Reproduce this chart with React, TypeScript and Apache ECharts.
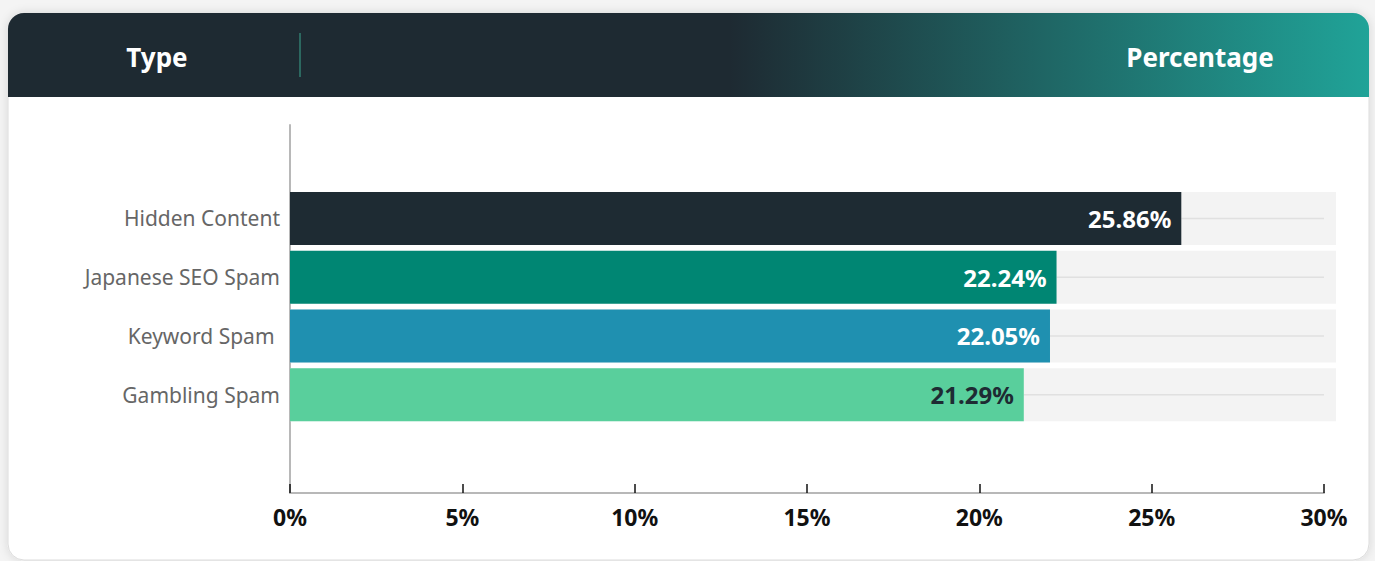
import React, { useEffect, useRef } from "react";
import * as echarts from "echarts";

const categories = ["Hidden Content", "Japanese SEO Spam", "Keyword Spam ", "Gambling Spam"];
const values = [25.86, 22.24, 22.05, 21.29];
const barColors = ["#1e2b33", "#008673", "#1f90b0", "#59cf9c"];
const labelColors = ["#ffffff", "#ffffff", "#ffffff", "#1e2b33"];
const headerLabels = ["Type", "Percentage"];
const AXIS_MAX = 30;
const AXIS_STEP = 5;

const FONT = "'Noto Sans', 'Open Sans', sans-serif";

export default function App() {
  const ref = useRef<HTMLDivElement>(null);

  useEffect(() => {
    if (!ref.current) return;
    const chart = echarts.init(ref.current, null, { renderer: "svg" });

    const option: any = {
      animation: false,
      backgroundColor: "#f4f4f4",
      graphic: [
        {
          type: "rect",
          z: -20,
          shape: { x: 8, y: 13, width: 1361, height: 547, r: 16 },
          style: {
            fill: "#ffffff",
            stroke: "#dcdcdc",
            lineWidth: 1,
            shadowBlur: 10,
            shadowColor: "rgba(0,0,0,0.12)",
          },
        },
        {
          type: "rect",
          z: -10,
          shape: { x: 8, y: 13, width: 1361, height: 84, r: [16, 16, 0, 0] },
          style: {
            fill: new echarts.graphic.LinearGradient(0, 0, 1, 0, [
              { offset: 0, color: "#1e2a32" },
              { offset: 0.53, color: "#1e2a32" },
              { offset: 1, color: "#20a398" },
            ]),
          },
        },
        {
          type: "line",
          z: 10,
          shape: { x1: 300, y1: 33, x2: 300, y2: 77 },
          style: { stroke: "#3aa58e", lineWidth: 1 },
        },
        {
          type: "text",
          z: 10,
          x: 157,
          y: 57,
          style: {
            text: headerLabels[0],
            fill: "#ffffff",
            font: `bold 26px ${FONT}`,
            textAlign: "center",
            textVerticalAlign: "middle",
          },
        },
        {
          type: "text",
          z: 10,
          x: 1200,
          y: 57,
          style: {
            text: headerLabels[1],
            fill: "#ffffff",
            font: `bold 26px ${FONT}`,
            textAlign: "center",
            textVerticalAlign: "middle",
          },
        },
      ],
      grid: [
        { left: 290, top: 125, width: 1034, height: 368, containLabel: false },
        { left: 290, top: 189, width: 1034, height: 235, containLabel: false },
      ],
      xAxis: [
        {
          gridIndex: 0,
          type: "value",
          min: 0,
          max: AXIS_MAX,
          interval: AXIS_STEP,
          axisLine: { show: true, lineStyle: { color: "#b8b8b8", width: 2 } },
          axisTick: { show: true, inside: true, length: 9, lineStyle: { color: "#111111", width: 1.5 } },
          splitLine: { show: false },
          axisLabel: {
            formatter: "{value}%",
            color: "#111111",
            fontFamily: FONT,
            fontWeight: "bold",
            fontSize: 23,
            margin: 12,
          },
        },
        {
          gridIndex: 1,
          type: "value",
          min: 0,
          max: AXIS_MAX,
          interval: AXIS_STEP,
          show: false,
        },
      ],
      yAxis: [
        {
          gridIndex: 0,
          type: "value",
          min: 0,
          max: 1,
          axisLine: { show: true, lineStyle: { color: "#b8b8b8", width: 2 } },
          axisTick: { show: false },
          axisLabel: { show: false },
          splitLine: { show: false },
        },
        {
          gridIndex: 1,
          type: "category",
          inverse: true,
          data: categories,
          axisLine: { show: false },
          axisTick: { show: false },
          axisLabel: {
            color: "#666666",
            fontFamily: FONT,
            fontSize: 21,
            margin: 10,
          },
        },
      ],
      series: [
        {
          type: "custom",
          xAxisIndex: 1,
          yAxisIndex: 1,
          z: 1,
          silent: true,
          encode: { x: 0, y: 1 },
          data: values.map((v, i) => [v, i]),
          renderItem: (params: any, api: any) => {
            const v = api.value(0);
            const idx = api.value(1);
            const start = api.coord([0, idx]);
            const end = api.coord([v, idx]);
            const max = api.coord([AXIS_MAX, idx]);
            const h = 53;
            return {
              type: "group",
              children: [
                {
                  type: "rect",
                  shape: { x: start[0], y: start[1] - h / 2, width: max[0] - start[0] + 12, height: h },
                  style: { fill: "#f3f3f3" },
                },
                {
                  type: "line",
                  shape: { x1: end[0], y1: end[1], x2: max[0], y2: end[1] },
                  style: { stroke: "#e0e0e0", lineWidth: 1.5 },
                },
              ],
            };
          },
        },
        {
          type: "bar",
          xAxisIndex: 1,
          yAxisIndex: 1,
          z: 2,
          barWidth: 53,
          data: values.map((v, i) => ({
            value: v,
            itemStyle: { color: barColors[i] },
            label: { color: labelColors[i] },
          })),
          label: {
            show: true,
            position: "insideRight",
            distance: 10,
            fontFamily: FONT,
            fontWeight: "bold",
            fontSize: 24,
            formatter: (p: any) => `${Number(p.value).toFixed(2)}%`,
          },
        },
      ],
    };

    chart.setOption(option);
    return () => chart.dispose();
  }, []);

  return (
    <div
      ref={ref}
      style={{ position: "fixed", left: 0, top: 0, width: 1375, height: 561 }}
    />
  );
}
